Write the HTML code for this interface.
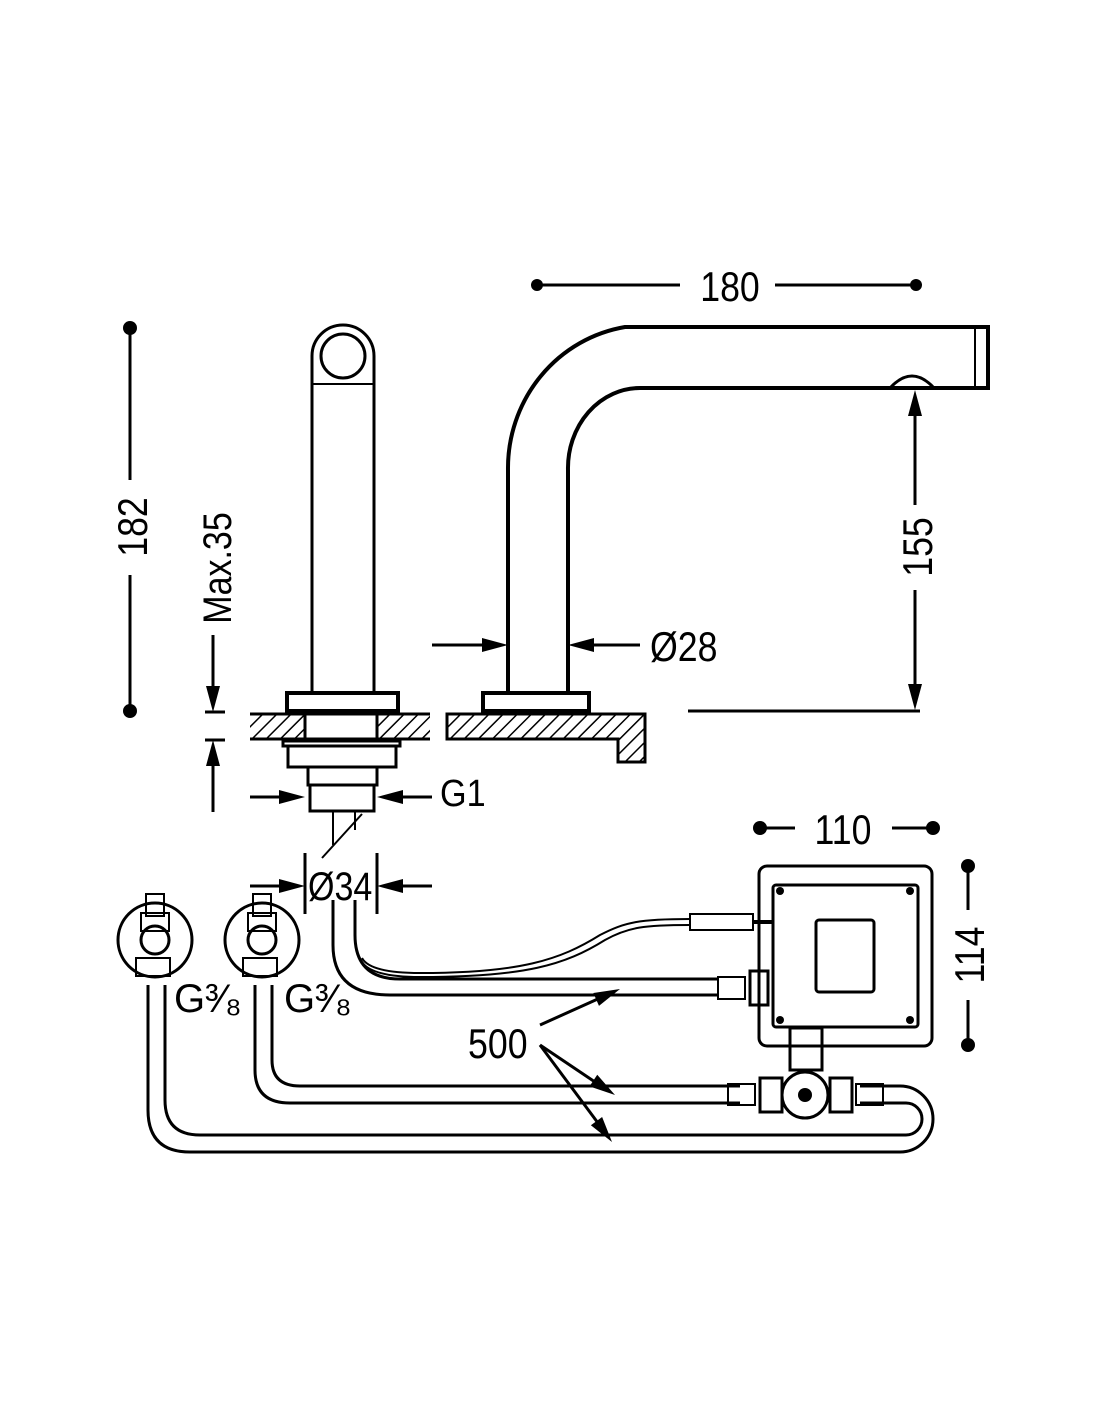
<!DOCTYPE html>
<html><head><style>
html,body{margin:0;padding:0;background:#fff}
svg{display:block}
text{font-family:"Liberation Sans",sans-serif;fill:#000}
</style></head><body>
<svg width="1100" height="1422" viewBox="0 0 1100 1422" xmlns="http://www.w3.org/2000/svg">
<defs>
<pattern id="h" width="10" height="10" patternUnits="userSpaceOnUse" patternTransform="rotate(45)">
<rect width="10" height="10" fill="#fff"/><line x1="0" y1="0" x2="0" y2="10" stroke="#000" stroke-width="3"/>
</pattern>
<path id="ar" d="M0,0 L-26,-7 L-26,7z"/>
</defs>
<g stroke="#000" fill="none" stroke-width="3">
<line x1="537" y1="285" x2="680" y2="285"/><line x1="775" y1="285" x2="916" y2="285"/>
<line x1="130" y1="328" x2="130" y2="480"/><line x1="130" y1="575" x2="130" y2="711"/>
<line x1="213" y1="635" x2="213" y2="700"/>
<line x1="205" y1="712" x2="225" y2="712"/><line x1="205" y1="740" x2="225" y2="740"/>
<line x1="213" y1="812" x2="213" y2="750"/>
<path d="M312,692 V356 A31,31 0 0 1 374,356 V692"/>
<circle cx="343" cy="356" r="22"/>
<line x1="312" y1="384" x2="374" y2="384" stroke-width="2"/>
<rect x="287" y="693" width="111" height="18" stroke-width="4"/>
<rect x="250" y="714" width="55" height="25" fill="url(#h)" stroke="none"/>
<rect x="377" y="714" width="53" height="25" fill="url(#h)" stroke="none"/>
<line x1="250" y1="714" x2="430" y2="714"/><line x1="250" y1="739" x2="430" y2="739"/>
<line x1="305" y1="714" x2="305" y2="741"/><line x1="377" y1="714" x2="377" y2="741"/>
<rect x="283" y="741" width="117" height="5"/>
<rect x="288" y="746" width="108" height="21"/>
<rect x="308" y="767" width="69" height="18"/>
<rect x="310" y="785" width="64" height="26"/>
<line x1="333" y1="811" x2="333" y2="845" stroke-width="2"/><line x1="355" y1="811" x2="355" y2="830" stroke-width="2"/>
<line x1="322" y1="858" x2="362" y2="814" stroke-width="2"/>
<line x1="250" y1="797" x2="290" y2="797"/>
<line x1="432" y1="797" x2="392" y2="797"/>
<line x1="305" y1="853" x2="305" y2="914"/><line x1="377" y1="853" x2="377" y2="914"/>
<line x1="250" y1="886" x2="290" y2="886"/>
<line x1="432" y1="886" x2="392" y2="886"/>
<path d="M508,692 V470 A140,143 0 0 1 625,327 H988 V388 H640 A72,80 0 0 0 568,470 V692" stroke-width="4"/>
<line x1="975" y1="327" x2="975" y2="388" stroke-width="2"/>
<path d="M890,388 Q912,364 934,388" stroke-width="3"/>
<rect x="483" y="693" width="106" height="18" stroke-width="4"/>
<path d="M447,714 H645 V762 H618 V739 H447 Z" fill="url(#h)"/>
<line x1="915" y1="505" x2="915" y2="410"/>
<line x1="915" y1="590" x2="915" y2="690"/>
<line x1="688" y1="711" x2="920" y2="711"/>
<line x1="432" y1="645" x2="490" y2="645"/>
<line x1="640" y1="645" x2="585" y2="645"/>
<line x1="760" y1="828" x2="795" y2="828"/><line x1="892" y1="828" x2="933" y2="828"/>
<line x1="968" y1="866" x2="968" y2="910"/><line x1="968" y1="1000" x2="968" y2="1045"/>
<rect x="759" y="866" width="173" height="180" rx="8"/>
<rect x="773" y="885" width="145" height="142" rx="3"/>
<rect x="816" y="920" width="58" height="72" rx="3"/>
<path d="M333,900 V945 Q333,995 390,995 H718" stroke-width="3"/>
<path d="M355,900 V935 Q355,979 400,979 H718" stroke-width="3"/>
<path d="M362,958 Q370,973 420,973 C520,973 560,960 600,935 C625,922 640,919 690,919" stroke-width="2"/>
<path d="M362,962 Q372,977 420,977 C525,977 565,965 605,940 C628,927 645,925 690,925" stroke-width="2"/>
<rect x="690" y="914" width="63" height="16" stroke-width="2"/>
<line x1="753" y1="922" x2="773" y2="922" stroke-width="4"/>
<rect x="718" y="977" width="27" height="22" stroke-width="2"/>
<rect x="750" y="971" width="18" height="34" stroke-width="3"/>
<rect x="790" y="1028" width="32" height="42" stroke-width="3"/>
<circle cx="805" cy="1095" r="23"/>
<rect x="760" y="1078" width="22" height="34"/><rect x="830" y="1078" width="22" height="34"/>
<path d="M272,985 V1060 Q272,1086 300,1086 H740" />
<path d="M255,985 V1070 Q255,1103 290,1103 H740" />
<path d="M860,1086 H900 A33,33 0 0 1 900,1152 H190 Q148,1152 148,1110 V985"/>
<path d="M860,1103 H906 A16,16 0 0 1 906,1135 H200 Q165,1135 165,1100 V985"/>
<rect x="728" y="1084" width="27" height="21" stroke-width="2"/><rect x="856" y="1084" width="27" height="21" stroke-width="2"/>
<circle cx="155" cy="940" r="37"/><circle cx="262" cy="940" r="37"/>
<rect x="146" y="894" width="18" height="22" stroke-width="2"/><rect x="253" y="894" width="18" height="22" stroke-width="2"/>
<rect x="141" y="913" width="28" height="18" stroke-width="2"/><rect x="248" y="913" width="28" height="18" stroke-width="2"/>
<circle cx="155" cy="940" r="14"/><circle cx="262" cy="940" r="14"/>
<rect x="136" y="958" width="34" height="18" stroke-width="2"/><rect x="243" y="958" width="34" height="18" stroke-width="2"/>
<line x1="540" y1="1025" x2="600" y2="998"/>
<line x1="540" y1="1045" x2="595" y2="1082"/>
<line x1="540" y1="1045" x2="598" y2="1123"/>
</g>
<g fill="#000">
<circle cx="537" cy="285" r="6"/><circle cx="916" cy="285" r="6"/>
<circle cx="130" cy="328" r="7"/><circle cx="130" cy="711" r="7"/>
<circle cx="760" cy="828" r="7"/><circle cx="933" cy="828" r="7"/>
<circle cx="968" cy="866" r="7"/><circle cx="968" cy="1045" r="7"/>
<use href="#ar" transform="translate(213,712) rotate(90)"/>
<use href="#ar" transform="translate(213,740) rotate(-90)"/>
<use href="#ar" transform="translate(305,797)"/>
<use href="#ar" transform="translate(377,797) rotate(180)"/>
<use href="#ar" transform="translate(305,886)"/>
<use href="#ar" transform="translate(377,886) rotate(180)"/>
<use href="#ar" transform="translate(508,645)"/>
<use href="#ar" transform="translate(568,645) rotate(180)"/>
<use href="#ar" transform="translate(915,390) rotate(-90)"/>
<use href="#ar" transform="translate(915,710) rotate(90)"/>
<use href="#ar" transform="translate(620,989) rotate(-23.6)"/>
<use href="#ar" transform="translate(615,1095) rotate(33.7)"/>
<use href="#ar" transform="translate(612,1142) rotate(53.4)"/>
<circle cx="780" cy="891" r="4"/><circle cx="910" cy="891" r="4"/><circle cx="780" cy="1020" r="4"/><circle cx="910" cy="1020" r="4"/>
<circle cx="805" cy="1095" r="7"/>
</g>
<g font-size="42">
<text transform="translate(730,301) scale(0.85,1)" text-anchor="middle">180</text>
<text transform="translate(440,806) scale(0.9,1)" font-size="38">G1</text>
<text transform="translate(308,900) scale(0.85,1)" font-size="40">Ø34</text>
<text transform="translate(650,661) scale(0.85,1)">Ø28</text>
<text transform="translate(843,844) scale(0.85,1)" text-anchor="middle">110</text>
<text transform="translate(468,1058) scale(0.85,1)">500</text>
<text x="174" y="1012" font-size="40">G³⁄₈</text>
<text x="284" y="1012" font-size="40">G³⁄₈</text>
<text transform="translate(147,527) rotate(-90) scale(0.85,1)" text-anchor="middle">182</text>
<text transform="translate(231,568) rotate(-90) scale(0.85,1)" text-anchor="middle" font-size="40">Max.35</text>
<text transform="translate(932,547) rotate(-90) scale(0.85,1)" text-anchor="middle">155</text>
<text transform="translate(984,955) rotate(-90) scale(0.85,1)" text-anchor="middle">114</text>
</g>
</svg>
</body></html>
